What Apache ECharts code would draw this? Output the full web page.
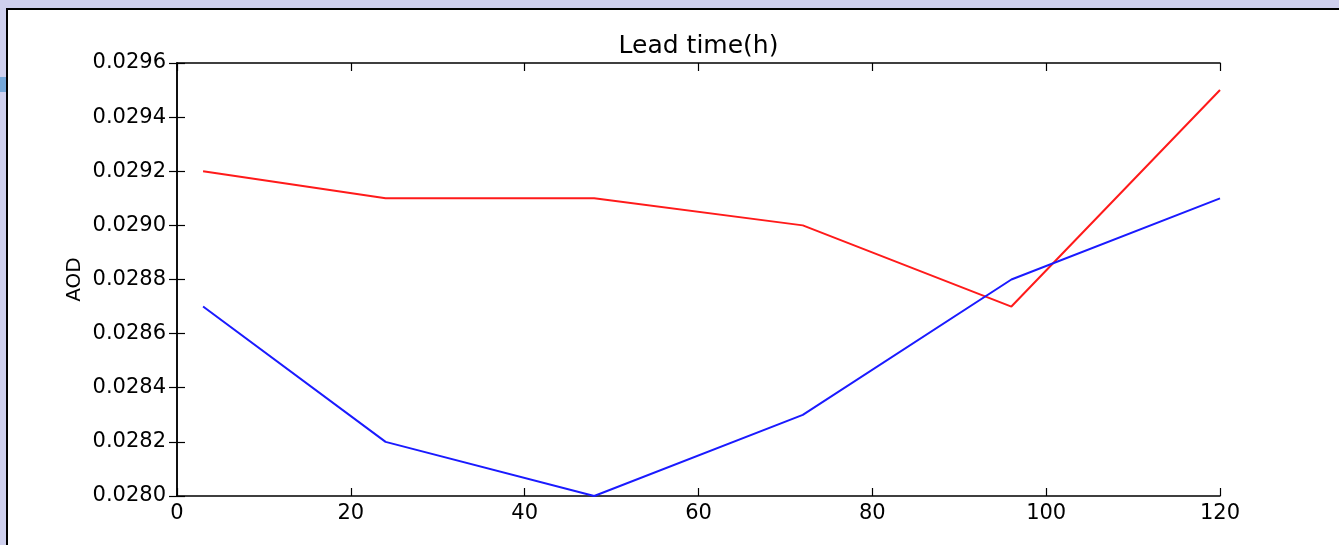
<!DOCTYPE html>
<html>
<head>
<meta charset="utf-8">
<script src="https://cdn.jsdelivr.net/npm/echarts@6/dist/echarts.min.js"></script>
<style>
html,body{margin:0;padding:0;background:#cfd0ee;}
#c{width:1339px;height:545px;}
</style>
</head>
<body>
<div id="c"></div>
<script>
const leadTimes = [3, 24, 48, 72, 96, 120];
const redSeries = [0.0292, 0.0291, 0.0291, 0.0290, 0.0287, 0.0295];
const blueSeries = [0.0287, 0.0282, 0.0280, 0.0283, 0.0288, 0.0291];
const xTicks = [0, 20, 40, 60, 80, 100, 120];
const yTicks = [0.0280, 0.0282, 0.0284, 0.0286, 0.0288, 0.0290, 0.0292, 0.0294, 0.0296];

const chart = echarts.init(document.getElementById('c'), null, {renderer: 'canvas'});
const font = 'DejaVu Sans';
const axisLine = {show: true, lineStyle: {color: '#000', width: 1.5}};
const tick = {show: true, inside: true, length: 8, lineStyle: {color: '#000', width: 1.2}};
const xCommon = {type: 'value', min: 0, max: 120, interval: 20, splitLine: {show: false}, axisLine: axisLine, axisTick: tick};
const yCommon = {type: 'value', min: 0.0280, max: 0.0296, interval: 0.0002, splitLine: {show: false}, axisLine: axisLine, axisTick: tick};

chart.setOption({
  backgroundColor: '#cfd0ee',
  animation: false,
  graphic: [
    {type: 'rect', shape: {x: 7, y: 9, width: 1345, height: 545}, style: {fill: '#ffffff', stroke: '#000', lineWidth: 2}, z: -10},
    {type: 'rect', shape: {x: 0, y: 77, width: 6, height: 15}, style: {fill: '#74a7d9'}, z: -9}
  ],
  grid: {left: 177, right: 119, top: 63, bottom: 49, containLabel: false},
  xAxis: [
    Object.assign({}, xCommon, {position: 'bottom',
      axisLabel: {show: true, color: '#000', fontFamily: font, fontSize: 21, margin: 7,
        formatter: v => xTicks.includes(v) ? String(v) : ''}}),
    Object.assign({}, xCommon, {position: 'top', axisLabel: {show: false},
      name: 'Lead time(h)', nameLocation: 'middle', nameGap: 4,
      nameTextStyle: {color: '#000', fontFamily: font, fontSize: 25}})
  ],
  yAxis: [
    Object.assign({}, yCommon, {position: 'left',
      axisLabel: {show: true, color: '#000', fontFamily: font, fontSize: 21, margin: 11,
        formatter: v => { const t = yTicks.find(y => Math.abs(y - v) < 1e-9); return t !== undefined ? t.toFixed(4) : ''; }},
      name: 'AOD', nameLocation: 'middle', nameGap: 92, nameRotate: 90, nameMoveOverlap: false,
      nameTextStyle: {color: '#000', fontFamily: font, fontSize: 20}}),
    Object.assign({}, yCommon, {position: 'right', axisLabel: {show: false}})
  ],
  series: [
    {type: 'line', name: 'red', xAxisIndex: 0, yAxisIndex: 0, data: leadTimes.map((x, i) => [x, redSeries[i]]),
      showSymbol: false, symbol: 'none', lineStyle: {color: '#ff1a1a', width: 2}, itemStyle: {color: '#ff1a1a'}},
    {type: 'line', name: 'blue', xAxisIndex: 0, yAxisIndex: 0, data: leadTimes.map((x, i) => [x, blueSeries[i]]),
      showSymbol: false, symbol: 'none', lineStyle: {color: '#1a1aff', width: 2}, itemStyle: {color: '#1a1aff'}}
  ]
});
</script>
</body>
</html>
